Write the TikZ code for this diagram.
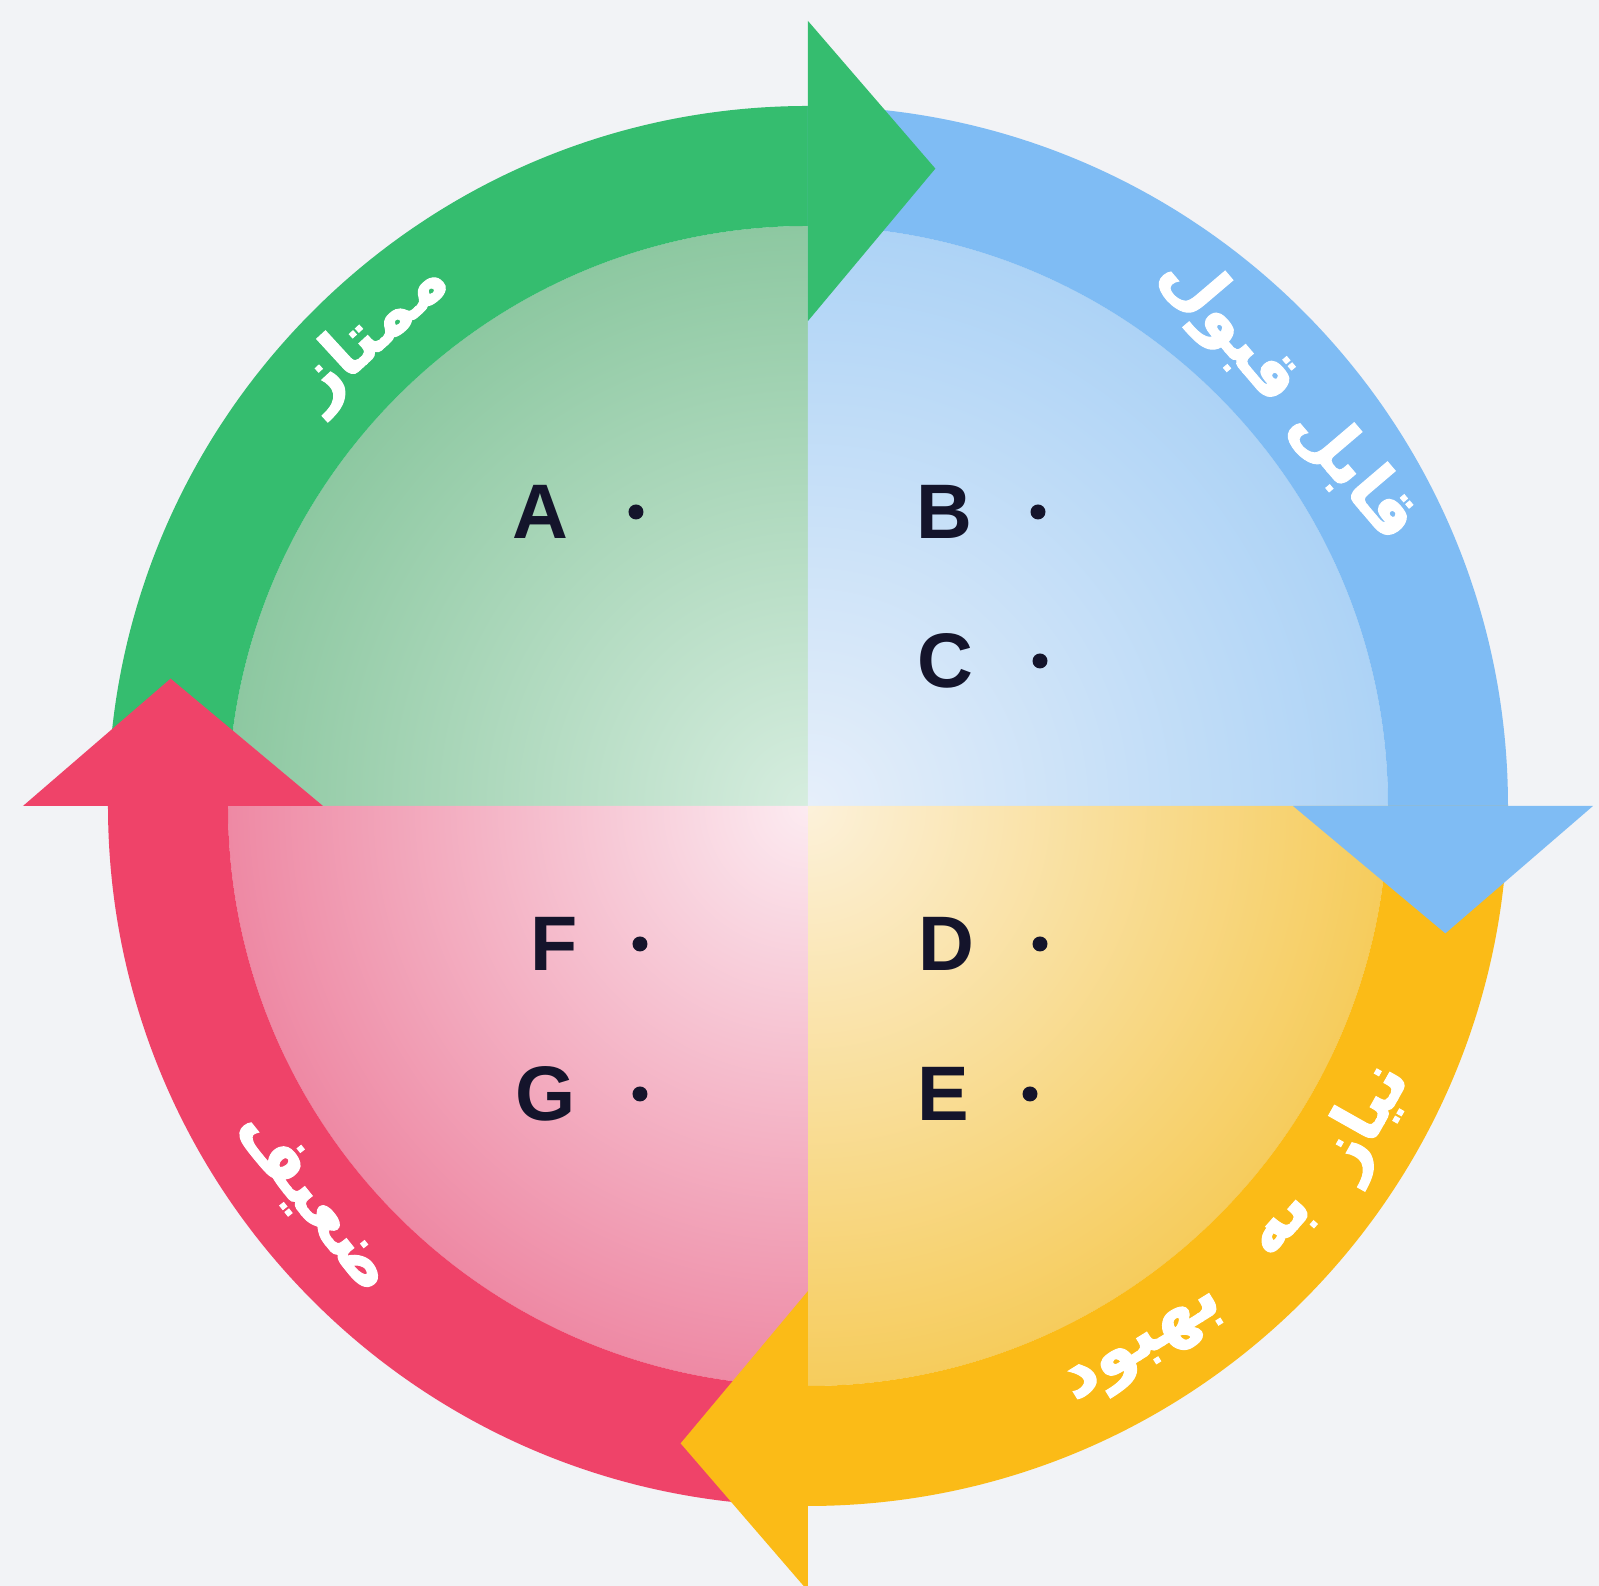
\documentclass[tikz,border=0pt]{standalone}
\usepackage{fontspec}
\setmainfont{Liberation Sans}
\newfontfamily\arabicfont[Script=Arabic,BoldFeatures={FakeBold=1.5}]{DejaVu Sans}
\TeXXeTstate=1
\usetikzlibrary{positioning}
\definecolor{paper}{HTML}{F2F3F6}
\definecolor{ink}{HTML}{14142B}
\definecolor{ringgreen}{HTML}{35BD6F}
\definecolor{ringblue}{HTML}{7FBCF4}
\definecolor{ringyellow}{HTML}{FBBB17}
\definecolor{ringred}{HTML}{EF4369}
\definecolor{greenout}{HTML}{8DC8A1}
\definecolor{greenin}{HTML}{D6EDDF}
\definecolor{blueout}{HTML}{ADD3F6}
\definecolor{bluein}{HTML}{E6EFFA}
\definecolor{yellowout}{HTML}{F6CC5C}
\definecolor{yellowin}{HTML}{FCF1DA}
\definecolor{pinkout}{HTML}{EE89A4}
\definecolor{pinkin}{HTML}{FCEBF1}

\begin{document}
\begin{tikzpicture}[
  lbl/.style={font=\arabicfont\bfseries\fontsize{19.5}{24}\selectfont,text=white,inner sep=1pt},
  letter/.style={font=\bfseries\fontsize{22}{26}\selectfont,text=ink,inner sep=0pt},
  bullet/.style={circle,fill=ink,inner sep=0pt,minimum size=0.15cm}]
\useasboundingbox (-8.08,-7.80) rectangle (7.91,8.06);
\fill[paper] (-8.08,-7.80) rectangle (7.91,8.06);

% quadrants
\begin{scope}
\clip (0,0) -- (90:5.8) arc[start angle=90,end angle=180,radius=5.8] -- cycle;
\shade[inner color=greenin,outer color=greenout] (0,0) circle (5.8);
\end{scope}
\begin{scope}
\clip (0,0) -- (0:5.8) arc[start angle=0,end angle=90,radius=5.8] -- cycle;
\shade[inner color=bluein,outer color=blueout] (0,0) circle (5.8);
\end{scope}
\begin{scope}
\clip (0,0) -- (-90:5.8) arc[start angle=-90,end angle=0,radius=5.8] -- cycle;
\shade[inner color=yellowin,outer color=yellowout] (0,0) circle (5.8);
\end{scope}
\begin{scope}
\clip (0,0) -- (180:5.8) arc[start angle=180,end angle=270,radius=5.8] -- cycle;
\shade[inner color=pinkin,outer color=pinkout] (0,0) circle (5.8);
\end{scope}

% ring
\fill[ringgreen] (180:7) arc[start angle=180,end angle=90,radius=7] -- (90:5.8) arc[start angle=90,end angle=180,radius=5.8] -- cycle;
\fill[ringblue] (90:7) arc[start angle=90,end angle=0,radius=7] -- (0:5.8) arc[start angle=0,end angle=90,radius=5.8] -- cycle;
\fill[ringyellow] (0:7) arc[start angle=0,end angle=-90,radius=7] -- (-90:5.8) arc[start angle=-90,end angle=0,radius=5.8] -- cycle;
\fill[ringred] (270:7) arc[start angle=270,end angle=180,radius=7] -- (180:5.8) arc[start angle=180,end angle=270,radius=5.8] -- cycle;

% heads
\fill[ringgreen] (90:4.85) -- (90:7.85) -- (78.7:6.5) -- cycle;
\fill[ringblue] (0:4.85) -- (0:7.85) -- (-11.3:6.5) -- cycle;
\fill[ringyellow] (-90:4.85) -- (-90:7.85) -- (-101.3:6.5) -- cycle;
\fill[ringred] (180:4.85) -- (180:7.85) -- (168.7:6.5) -- cycle;

% ring labels
\node[lbl,rotate=42.6] (excellent) at (132.6:6.42) {\beginR ممتاز\endR};
\node[lbl,rotate=-49.6] (acceptable) at (40.4:6.3) {\beginR قابل قبول\endR};
\node[lbl,rotate=60.6] (needs) at (-29.4:6.4) {\beginR نیاز\endR};
\node[lbl,rotate=48.5] (to) at (-41.5:6.4) {\beginR به\endR};
\node[lbl,rotate=31.9] (improve) at (-58.1:6.4) {\beginR بهبود\endR};
\node[lbl,rotate=-51.3] (weak) at (-141.3:6.35) {\beginR ضعیف\endR};

% items
\node[letter] (A) at (-2.68,2.94) {A};
\node[bullet] (dotA) at (-1.72,2.94) {};
\node[letter] (B) at (1.36,2.94) {B};
\node[bullet] (dotB) at (2.30,2.94) {};
\node[letter] (C) at (1.37,1.45) {C};
\node[bullet] (dotC) at (2.32,1.45) {};
\node[letter] (D) at (1.38,-1.38) {D};
\node[bullet] (dotD) at (2.32,-1.38) {};
\node[letter] (E) at (1.35,-2.88) {E};
\node[bullet] (dotE) at (2.22,-2.88) {};
\node[letter] (F) at (-2.54,-1.38) {F};
\node[bullet] (dotF) at (-1.68,-1.38) {};
\node[letter] (G) at (-2.62,-2.88) {G};
\node[bullet] (dotG) at (-1.68,-2.88) {};
\end{tikzpicture}
\end{document}
